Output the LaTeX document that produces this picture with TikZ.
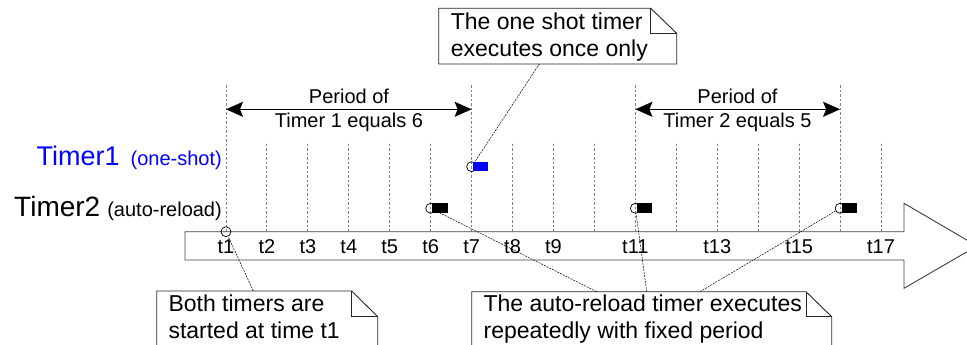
\documentclass[tikz,border=0pt]{standalone}
\usepackage{fontspec}
\setmainfont{Liberation Sans}
\usetikzlibrary{arrows.meta}
\begin{document}
\begin{tikzpicture}[x=1pt,y=-1pt,
  tickline/.style={draw=black!50, line width=0.9pt, dash pattern=on 2.5pt off 2pt},
  lead/.style={draw=black, line width=0.5pt, dash pattern=on 2pt off 1pt},
  notebox/.style={draw=black!85, line width=0.9pt, fill=white},
  small/.style={font=\fontsize{20}{24}\selectfont},
  notefont/.style={font=\fontsize{23}{27}\selectfont, inner sep=0pt, anchor=base west},
  ring/.style={circle, draw=black, line width=0.7pt, minimum size=10pt, inner sep=0pt},
  period/.style={line width=1.6pt, {Stealth[length=17pt,width=15pt,inset=3pt]}-{Stealth[length=17pt,width=15pt,inset=3pt]}}
]
\useasboundingbox (0,0) rectangle (967,345);

% tick lines
\foreach \i in {1,...,17}{
  \pgfmathsetmacro{\xx}{226+(\i-1)*40.94}
  \coordinate (tk\i) at (\xx,231.7);
}
\foreach \i in {2,3,4,5,6,8,9,10,12,13,14,15,17}{
  \draw[tickline] (tk\i) -- ++(0,-90);
}
\foreach \i in {1,7,11,16}{
  \draw[tickline] (tk\i) -- ++(0,-147.7);
}

% big time arrow
\draw[draw=black!75, line width=0.9pt, fill=white] (185,231.7) -- (904,231.7) -- (904,203.3) -- (977,246) -- (904,288.3) -- (904,260) -- (185,260) -- cycle;

% tick labels
\foreach \i in {1,2,3,4,5,6,7,8,9,11,13,15,17}{
  \node[small, anchor=base, inner sep=0pt] (lb\i) at ([yshift=-21.6pt]tk\i) {t\i};
}

% period arrows
\draw[period] (tk1 |- 0,109.3) -- (tk7 |- 0,109.3);
\node[small, anchor=base, inner sep=0pt] (p1a) at (349,103.5) {Period of};
\node[small, anchor=base, inner sep=0pt] (p1b) at (349,128) {Timer 1 equals 6};
\draw[period] (tk11 |- 0,109.3) -- (tk16 |- 0,109.3);
\node[small, anchor=base, inner sep=0pt] (p2a) at (737.5,103.5) {Period of};
\node[small, anchor=base, inner sep=0pt] (p2b) at (737.5,128) {Timer 2 equals 5};

% timer labels
\node[anchor=base east, inner sep=0pt, text=blue] (tim1) at (222,165.7)
  {{\fontsize{27}{30}\selectfont Timer1}\hspace{11pt}{\fontsize{20}{24}\selectfont (one-shot)}};
\node[anchor=base east, inner sep=0pt] (tim2) at (222,216.7)
  {{\fontsize{28}{30}\selectfont Timer2}\hspace{7pt}{\fontsize{20}{24}\selectfont (auto-reload)}};

% execution markers
\node[ring] (r1) at (tk1) {};
\node[ring] (r7) at (tk7 |- 0,166.7) {};
\fill[blue] (473,161.7) rectangle (488,171.2);
\node[ring] (r6) at (tk6 |- 0,208.3) {};
\fill[black] (432,202.8) rectangle (448,212.8);
\node[ring] (r11) at (tk11 |- 0,208.3) {};
\fill[black] (636.5,202.8) rectangle (652,212.8);
\node[ring] (r16) at (tk16 |- 0,208.3) {};
\fill[black] (841.5,202.8) rectangle (857,212.8);

% note 1
\draw[notebox] (438.7,8.3) -- (650.7,8.3) -- (676.7,33.3) -- (676.7,64) -- (438.7,64) -- cycle;
\draw[notebox, fill=none] (650.7,8.3) -- (650.7,33.3) -- (676.7,33.3);
\node[notefont] (n1a) at (450.7,29.3) {The one shot timer};
\node[notefont] (n1b) at (450.7,56.4) {executes once only};
\coordinate (n1p) at (539.3,64);
\draw[lead] (n1p) -- (r7);

% note 2
\draw[notebox] (156.7,346) -- (156.7,291) -- (351.7,291) -- (377.7,316.7) -- (377.7,346);
\draw[notebox, fill=none] (351.7,291) -- (351.7,316.7) -- (377.7,316.7);
\node[notefont] (n2a) at (168.3,311.7) {Both timers are};
\node[notefont] (n2b) at (168.3,338.3) {started at time t1};
\coordinate (n2p) at (253.3,291);
\draw[lead] (n2p) -- (r1);

% note 3
\draw[notebox] (471.7,346) -- (471.7,291.7) -- (806,291.7) -- (831.7,316.7) -- (831.7,346);
\draw[notebox, fill=none] (806,291.7) -- (806,316.7) -- (831.7,316.7);
\node[notefont] (n3a) at (483.4,311.7) {The auto-reload timer executes};
\node[notefont] (n3b) at (483.4,338.3) {repeatedly with fixed period};
\coordinate (n3p1) at (596.7,291.7);
\coordinate (n3p2) at (646.7,291.7);
\coordinate (n3p3) at (700,291.7);
\draw[lead] (n3p1) -- (r6);
\draw[lead] (n3p2) -- (r11);
\draw[lead] (n3p3) -- (r16);
\end{tikzpicture}
\end{document}
